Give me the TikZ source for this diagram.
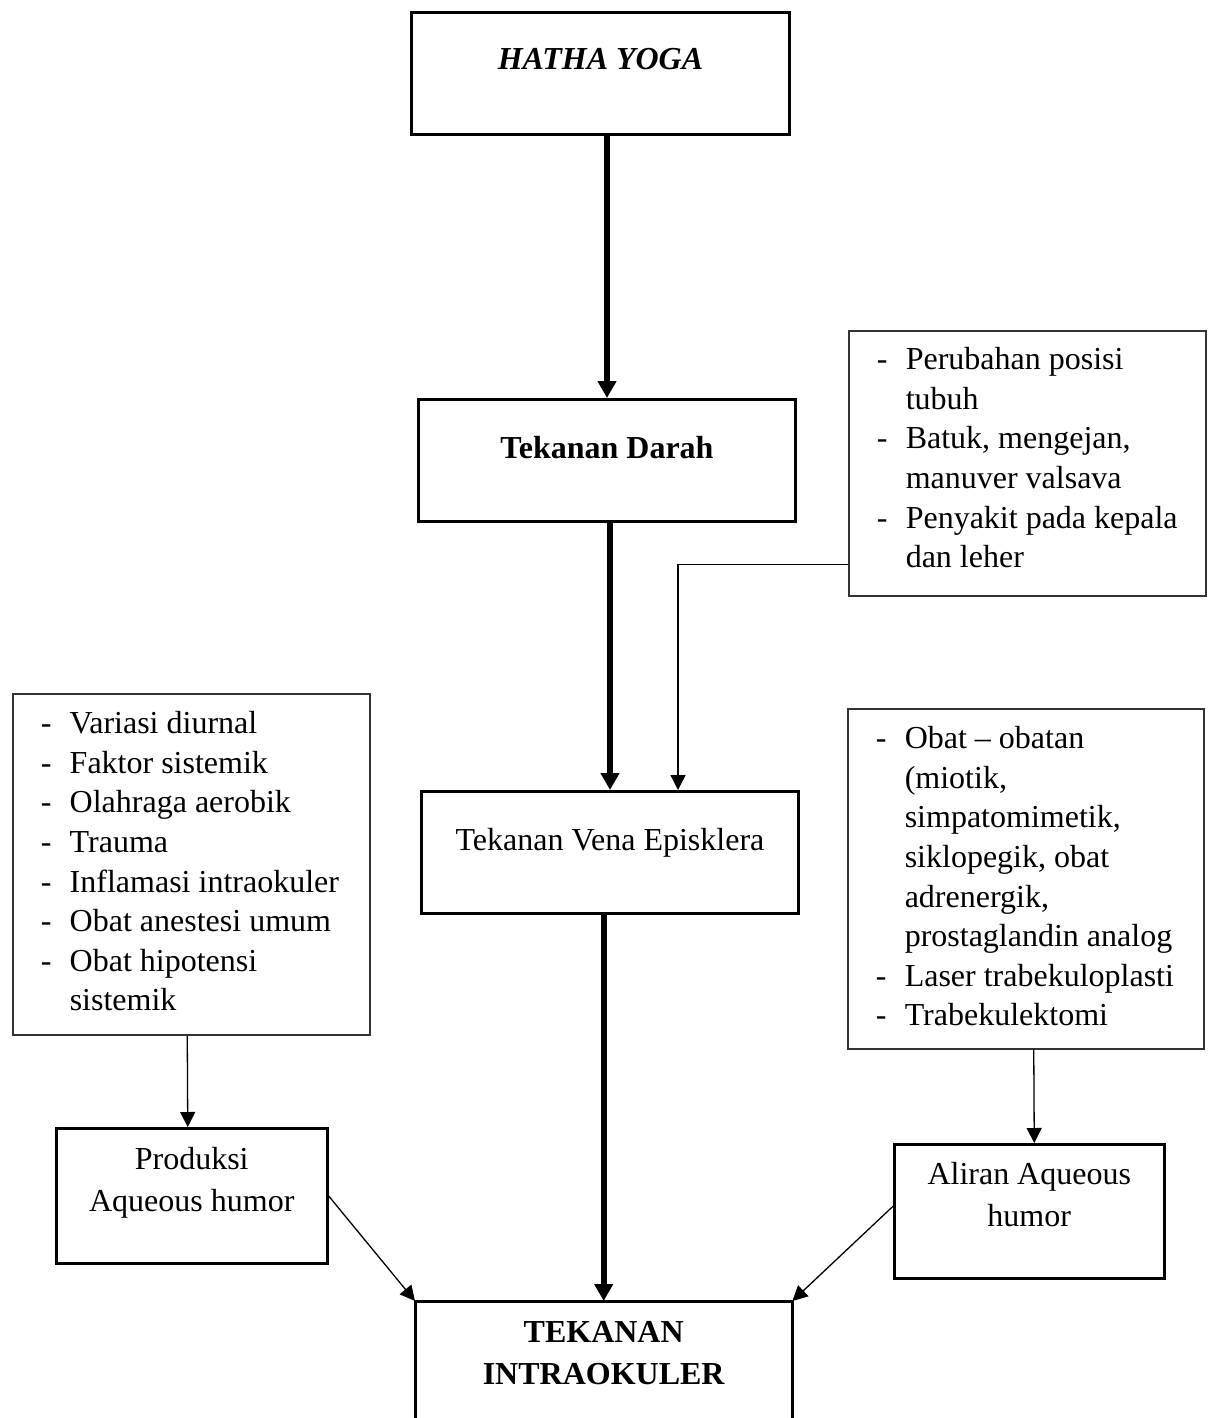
\documentclass[tikz,border=0pt]{standalone}
\usepackage{fontspec}
\setmainfont{Liberation Serif}
\usetikzlibrary{arrows.meta,calc}
\tikzset{
  every node/.style={font=\fontsize{32}{39.6}\selectfont},
  mainbox/.style={draw, line width=3pt, inner sep=0pt, anchor=north west},
  listbox/.style={draw=black!80, line width=1.5pt, inner sep=0pt, anchor=north west},
  midbox/.style={draw, line width=2.5pt, inner sep=0pt, anchor=north west},
  openbox/.style={inner sep=0pt, anchor=north west},
  thickarrow/.style={line width=6pt, -{Triangle[length=17pt,width=18pt]}},
  thinarrow/.style={line width=1.3pt, -{Triangle[length=15pt,width=15pt]}},
}
\newcommand{\onebox}[4]{\parbox[t][#2][t]{#1}{\fontsize{32}{42}\selectfont\centering\rule{0pt}{#3}#4}}
\newcommand{\lstbox}[4]{\parbox[t][#2][t]{#1}{\noindent\rule{0pt}{#3}\hspace{28pt}\begin{tabular}[t]{@{}p{29pt}@{}l@{}}#4\end{tabular}}}
\begin{document}
\begin{tikzpicture}[x=1pt,y=-1pt]
\useasboundingbox (0,0) rectangle (1213,1418);
\clip (0,0) rectangle (1213,1418);

\node[mainbox] (hy) at (410,11) {\onebox{378pt}{122pt}{57pt}{\textbf{\textit{HATHA YOGA}}}};
\node[mainbox] (darah) at (417,398) {\onebox{377pt}{122pt}{59pt}{\textbf{Tekanan Darah}}};
\node[mainbox] (vena) at (420,790) {\onebox{377pt}{122pt}{59pt}{Tekanan Vena Episklera}};

\node[listbox] (rb1) at (848,330) {\lstbox{357pt}{265pt}{39pt}{%
- & Perubahan posisi\\
  & tubuh\\
- & Batuk, mengejan,\\
  & manuver valsava\\
- & Penyakit pada kepala\\
  & dan leher}};

\node[listbox] (lb) at (12,693) {\lstbox{357pt}{341pt}{40pt}{%
- & Variasi diurnal\\
- & Faktor sistemik\\
- & Olahraga aerobik\\
- & Trauma\\
- & Inflamasi intraokuler\\
- & Obat anestesi umum\\
- & Obat hipotensi\\
  & sistemik}};

\node[listbox] (rb2) at (847,708) {\lstbox{356pt}{340pt}{40pt}{%
- & Obat – obatan\\
  & (miotik,\\
  & simpatomimetik,\\
  & siklopegik, obat\\
  & adrenergik,\\
  & prostaglandin analog\\
- & Laser trabekuloplasti\\
- & Trabekulektomi}};

\node[midbox] (prod) at (55,1127) {\onebox{271pt}{135pt}{41pt}{Produksi\\Aqueous humor}};
\node[midbox] (aliran) at (893,1143) {\onebox{270pt}{134pt}{40pt}{Aliran Aqueous\\humor}};

\node[openbox] (tio) at (415,1301) {\onebox{377pt}{150pt}{41pt}{\bfseries TEKANAN\\INTRAOKULER}};
\draw[line width=3pt] (tio.south west) -- (tio.north west) -- (tio.north east) -- (tio.south east);

% thick arrows
\draw[thickarrow] (hy.south -| darah.north) -- (darah.north);
\draw[thickarrow] (darah.south -| vena.north) -- (vena.north);
\draw[thickarrow] (vena.south -| tio.north) -- (tio.north);

% thin arrows
\draw[thinarrow] ([yshift=32pt]rb1.south west) -| ([xshift=68pt]vena.north);
\draw[thinarrow] ([xshift=-4pt]lb.south) -- ([xshift=-4pt]prod.north);
\draw[thinarrow] ([xshift=8pt]rb2.south) -- ([xshift=5pt]aliran.north);
\draw[thinarrow] (prod.east) -- (tio.north west);
\draw[thinarrow] ([yshift=5pt]aliran.west) -- (tio.north east);
\end{tikzpicture}
\end{document}
